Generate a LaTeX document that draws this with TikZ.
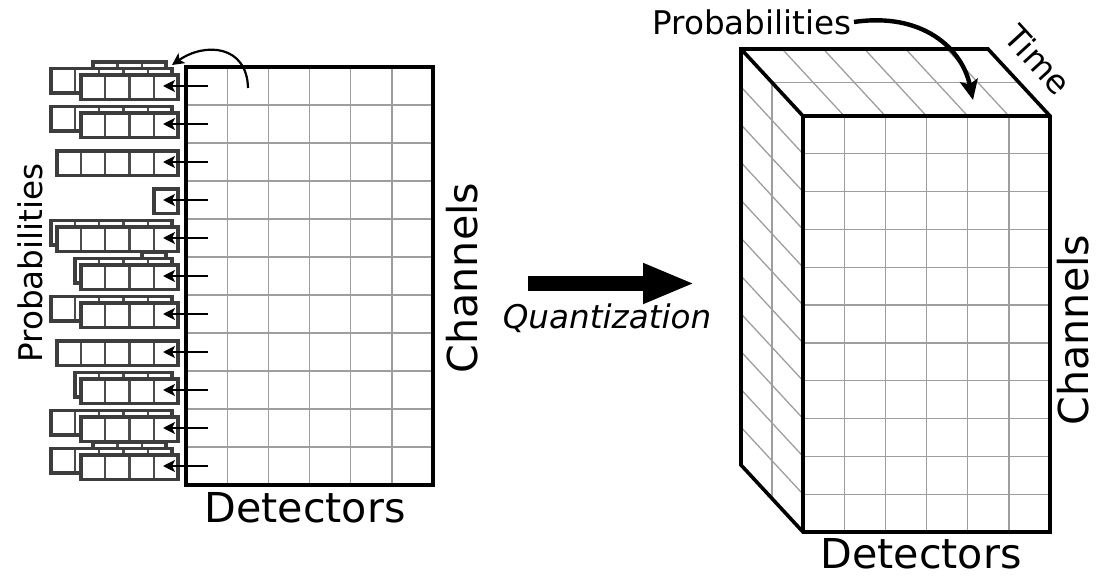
\documentclass[tikz,border=0pt]{standalone}
\usepackage{fontspec}
\setmainfont{DejaVu Sans}
\usetikzlibrary{arrows.meta}

\tikzset{
  gridline/.style={draw=black!38, line width=0.65pt},
  frame/.style={line width=1.8pt, line join=miter},
  probcell/.style={draw=black!76, line width=1.8pt},
  probdiv/.style={draw=black!70, line width=1.1pt},
  smallarrow/.style={line width=1.3pt, -{Stealth[length=6pt,width=6pt,inset=1.5pt]}},
  biglabel/.style={font=\fontsize{20.6}{24}\selectfont, inner sep=1pt},
  midlabel/.style={font=\fontsize{16.3}{19}\selectfont, inner sep=1pt},
}

\begin{document}
\begin{tikzpicture}[x=0.5pt,y=-0.5pt]
    \useasboundingbox (0,0) rectangle (1096,576);

    % grid on the left
    \coordinate (A) at (186,67);
    \coordinate (B) at (433,485);
    \foreach \i in {1,...,5}
        \draw[gridline] (186+41.17*\i,67) -- (186+41.17*\i,485);
    \foreach \j in {1,...,10}
        \draw[gridline] (186,67+38*\j) -- (433,67+38*\j);
    \draw[frame] (A) rectangle (B);

    % probability strips (row/depth/cells)
    \foreach \r/\d/\n in {1/2/3, 1/1/5, 1/0/4, 2/1/5, 2/0/4, 3/0/5, 4/0/1,
                          5/1/5, 5/0/5, 6/2/1, 6/1/4, 6/0/4, 7/1/5, 7/0/4,
                          8/0/5, 9/1/4, 9/0/4, 10/1/5, 10/0/4,
                          11/2/3, 11/1/5, 11/0/4}{
        \pgfmathsetmacro{\xr}{178-6*\d}
        \pgfmathsetmacro{\yt}{75+38*(\r-1)-6.5*\d}
        \pgfmathsetmacro{\xl}{\xr-24.25*\n}
        \fill[white] (\xl,\yt) rectangle (\xr,\yt+24.5);
        \foreach \k in {1,...,\n}
            \draw[probdiv] (\xr-24.25*\k,\yt) -- (\xr-24.25*\k,\yt+24.5);
        \draw[probcell] (\xl,\yt) rectangle (\xr,\yt+24.5);
    }

    % arrows from the rows
    \foreach \r in {1,...,11}{
        \coordinate (g\r) at (208,48+38*\r);
        \coordinate (p\r) at (163,48+38*\r);
        \draw[smallarrow] (g\r) -- (p\r);
    }

    % curved arrow
    \coordinate (cs) at (248,88);
    \coordinate (ce) at (172,65);
    \draw[line width=1.1pt, -{Stealth[length=6pt,width=6pt,inset=1.5pt]}]
        (cs) .. controls (247,45) and (205,42) .. (ce);

    % labels
    \node[biglabel] (detL) at (305,508) {Detectors};
    \node[biglabel, rotate=90] (chanL) at (462,278) {Channels};
    \node[midlabel, rotate=90] (probL) at (30,263) {Probabilities};

    % quantization arrow
    \coordinate (qa) at (528,283.5);
    \coordinate (qb) at (695,283.5);
    \draw[line width=7.5pt, -{Triangle[length=26pt,width=18.5pt]}] (qa) -- (qb);
    \node[midlabel, font=\fontsize{16.3}{19}\selectfont\itshape] (quant) at (607,318) {Quantization};

    % cube
    \foreach \i in {1,...,5}{
        \draw[gridline] (803+41.17*\i,116) -- (803+41.17*\i,532);
        \draw[gridline] (803+41.17*\i,116) -- (741+41.17*\i,49);
    }
    \foreach \j in {1,...,10}{
        \draw[gridline] (803,116+37.82*\j) -- (1050,116+37.82*\j);
        \draw[gridline] (803,116+37.82*\j) -- (741,49+37.82*\j);
    }
    \draw[gridline] (772,82.5) -- (1019,82.5);
    \draw[gridline] (772,82.5) -- (772,498.5);
    \draw[frame] (741,49) -- (988,49) -- (1050,116) -- (1050,532) -- (803,532) -- (741,465) -- cycle;
    \draw[frame] (741,49) -- (803,116) -- (1050,116);
    \draw[frame] (803,116) -- (803,532);

    % cube labels
    \node[midlabel] (probT) at (752,22) {Probabilities};
    \node[midlabel, rotate=-47.6] (time) at (1038,60) {Time};
    \node[biglabel, rotate=90] (chanR) at (1073,330) {Channels};
    \node[biglabel] (detR) at (921,554) {Detectors};
    \coordinate (pt) at (973,100);
    \draw[line width=2.2pt, -{Stealth[length=10pt,width=9pt,inset=2pt]}]
        (probT.east) .. controls (922,12) and (962,48) .. (pt);
\end{tikzpicture}
\end{document}
